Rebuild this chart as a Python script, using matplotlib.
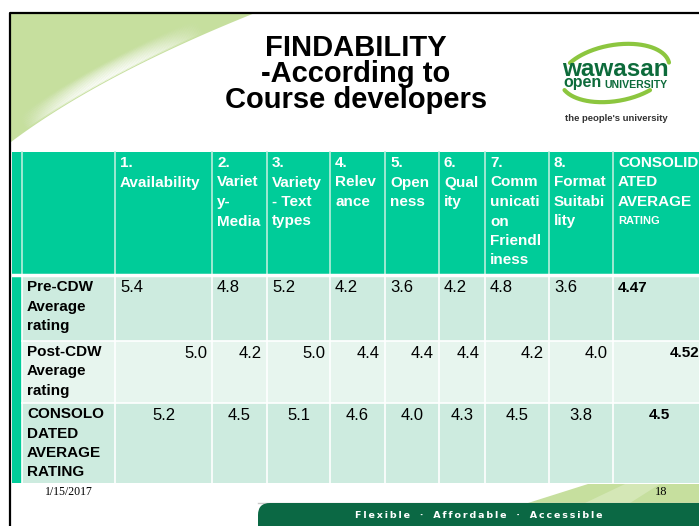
import numpy as np
import matplotlib.pyplot as plt
from matplotlib.patches import Rectangle, Polygon, FancyBboxPatch
from matplotlib.collections import LineCollection

# table data
criteria = [["1.", "Availability"], ["2.", "Variet", "y-", "Media"], ["3.", "Variety", "- Text", "types"],
            ["4.", "Relev", "ance"], ["5.", "Open", "ness"], ["6.", "Qual", "ity"],
            ["7.", "Comm", "unicati", "on", "Friendl", "iness"], ["8.", "Format", "Suitabi", "lity"],
            ["CONSOLID", "ATED", "AVERAGE", "RATING"]]
row_labels = [["Pre-CDW", "Average", "rating"], ["Post-CDW", "Average", "rating"],
              ["CONSOLO", "DATED", "AVERAGE", "RATING"]]
pre_cdw = [5.4, 4.8, 5.2, 4.2, 3.6, 4.2, 4.8, 3.6]
post_cdw = [5.0, 4.2, 5.0, 4.4, 4.4, 4.4, 4.2, 4.0]
consolidated = [5.2, 4.5, 5.1, 4.6, 4.0, 4.3, 4.5, 3.8]
avg_rating = ["4.47", "4.52", "4.5"]
rows = [pre_cdw, post_cdw, consolidated]

HEAD = "#00cc99"
LIGHT = "#cdebdf"
LIGHTER = "#e7f5ee"
PALE_GREEN = "#c6df9e"
DARK_GREEN = "#0b6844"
LOGO_GREEN = "#0d6b3b"
FONT = "Liberation Sans"

fig = plt.figure(figsize=(6.99, 5.26), dpi=100)
ax = fig.add_axes([0, 0, 1, 1])
ax.set_xlim(0, 699)
ax.set_ylim(526, 0)
ax.axis("off")

# slide border
ax.plot([10, 10, 700], [526, 12.5, 12.5], color="black", lw=1.6, zorder=5)

# green swoosh top-left
t = np.linspace(0, 1, 200)[:, None]
P0, C, P2 = np.array([11, 142]), np.array([100, 75]), np.array([255, 13])
curve = (1 - t) ** 2 * P0 + 2 * (1 - t) * t * C + t ** 2 * P2
ax.add_patch(Polygon(np.vstack([curve, [[11, 13]]]), closed=True, color=PALE_GREEN, lw=0, zorder=1))
d = 2 * (1 - t) * (C - P0) + 2 * t * (P2 - C)
n = np.hstack([d[:, 1:2], -d[:, 0:1]])
n = n / np.linalg.norm(n, axis=1, keepdims=True)
tt = t[:, 0]
profile = np.clip(np.sin(np.pi * (tt - 0.08) / 0.75), 0, 1) * (tt < 0.83) * (tt > 0.08)
for k in range(14):
    pts = curve + (2 + k * 1.1) * n
    segs = np.stack([pts[:-1], pts[1:]], axis=1)
    a = 0.75 * (1 - k / 14) * profile[:-1]
    cols = np.zeros((len(a), 4))
    cols[:, :3] = 1
    cols[:, 3] = a
    ax.add_collection(LineCollection(segs, colors=cols, lw=1.6, zorder=2))

# title
for i, line in enumerate(["FINDABILITY", "-According to", "Course developers"]):
    ax.text(356, 56.5 + i * 26, line, ha="center", va="baseline", fontsize=21,
            fontweight="bold", family=FONT, zorder=6)

# logo ring, hidden where the wordmark sits
th = np.linspace(0, 2 * np.pi, 400)
rot = np.deg2rad(-10)
ex, ey = 55 * np.cos(th), 28 * np.sin(th)
rx = 615 + ex * np.cos(rot) - ey * np.sin(rot)
ry = 73 + ex * np.sin(rot) + ey * np.cos(rot)
ry = np.where((ry > 63) & (ry < 90), np.nan, ry)
ax.plot(rx, ry, color="#8cc63f", lw=3, solid_capstyle="round", zorder=3)
ax.text(615, 76.5, "wawasan", ha="center", va="baseline", fontsize=17.5, fontweight="heavy",
        family=FONT, color=LOGO_GREEN, zorder=4)
ax.text(563, 87.5, "open", ha="left", va="baseline", fontsize=11.5, fontweight="heavy",
        family=FONT, color=LOGO_GREEN, zorder=4)
ax.text(604, 87.5, "UNIVERSITY", ha="left", va="baseline", fontsize=7.6, fontweight="bold",
        family=FONT, color=LOGO_GREEN, zorder=4)
ax.text(616, 121, "the people's university", ha="center", va="baseline", fontsize=6.8,
        fontweight="bold", family=FONT, color="#333333", zorder=4)

# table geometry
x_edges = [22, 115, 212, 267, 330, 385, 439, 485, 549, 613, 705]
head_top, head_bot = 152, 274
row_edges = [276, 341, 403, 483]
row_colors = [LIGHT, LIGHTER, LIGHT]

# cells
ax.add_patch(Rectangle((12, head_top), 705 - 12, head_bot - head_top, color=HEAD, lw=0, zorder=3))
for r in range(3):
    y0, y1 = row_edges[r], row_edges[r + 1]
    ax.add_patch(Rectangle((12, y0), 10, y1 - y0, color=HEAD, lw=0, zorder=3))
    ax.add_patch(Rectangle((22, y0), 705 - 22, y1 - y0, color=row_colors[r], lw=0, zorder=3))

# grid lines
for x in x_edges[:-1]:
    ax.plot([x, x], [head_top, head_bot], color="#b8eedc", lw=1.2, zorder=4)
    ax.plot([x, x], [row_edges[0], row_edges[-1]], color="white", lw=1.2, zorder=4)
ax.plot([12, 705], [275, 275], color="white", lw=2.5, zorder=4)
for y in row_edges[1:-1]:
    ax.plot([22, 705], [y, y], color="white", lw=1.2, zorder=4)

# header text
for j, lines in enumerate(criteria):
    for i, line in enumerate(lines):
        small = (j == len(criteria) - 1 and line == "RATING")
        ax.text(x_edges[j + 1] + 5, 163 + i * 19.5, line, ha="left", va="center",
                fontsize=8 if small else 11, fontweight="bold", family=FONT,
                color="white", zorder=5, clip_on=True)

# row labels and values
aligns = ["left", "right", "center"]
for r in range(3):
    y0 = row_edges[r]
    for i, line in enumerate(row_labels[r]):
        ax.text(27, y0 + 11 + i * 19.5, line, ha="left", va="center", fontsize=11,
                fontweight="bold", family=FONT, color="black", zorder=5)
    vals = ["%.1f" % v for v in rows[r]] + [avg_rating[r]]
    for j, v in enumerate(vals):
        xl, xr = x_edges[j + 1], x_edges[j + 2]
        xpos = {"left": xl + 5, "right": xr - 5, "center": (xl + xr) / 2}[aligns[r]]
        ax.text(xpos, y0 + 12, v, ha=aligns[r], va="center",
                fontsize=11 if j == 8 else 12, fontweight="bold" if j == 8 else "normal",
                family=FONT, color="black", zorder=5, clip_on=True)

# footer
ax.text(45, 492, "1/15/2017", ha="left", va="center", fontsize=8.5, family="Liberation Serif", zorder=5)
ax.add_patch(Polygon([[528, 503], [588, 484], [705, 484], [705, 503]], closed=True,
                     color=PALE_GREEN, lw=0, zorder=3))
ax.add_patch(Polygon([[585, 503], [625, 484], [660, 484], [630, 503]], closed=True,
                     color="white", alpha=0.25, lw=0, zorder=3))
ax.text(661, 492, "18", ha="center", va="center", fontsize=9, family="Liberation Serif", zorder=5)
ax.plot([258, 705], [503, 503], color="#c9c9c9", lw=1, zorder=3)
ax.add_patch(FancyBboxPatch((258, 503), 460, 40, boxstyle="round,pad=0,rounding_size=12",
                            color=DARK_GREEN, lw=0, zorder=4))
sp = lambda w: "\u2009".join(w)
motto = sp("Flexible") + "   \u00b7   " + sp("Affordable") + "   \u00b7   " + sp("Accessible")
ax.text(479, 516, motto, ha="center", va="center", fontsize=6.8, fontweight="bold",
        family="DejaVu Sans", color="white", zorder=5)

fig.savefig("out.png", dpi=100)
